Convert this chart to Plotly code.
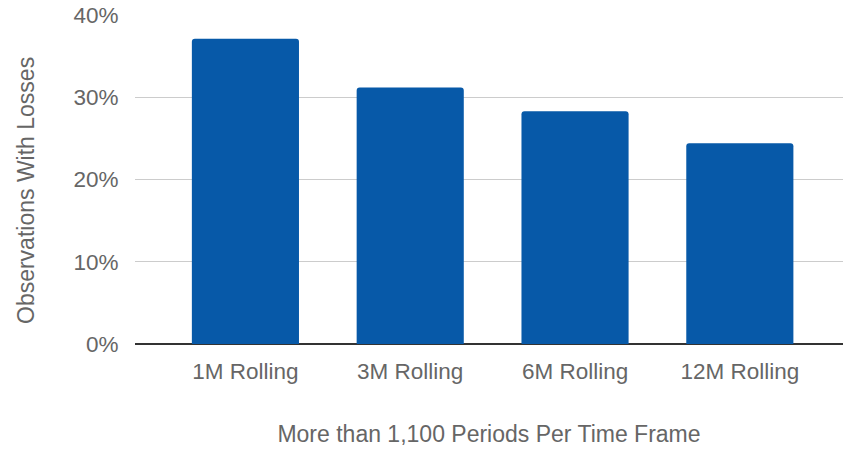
import plotly.graph_objects as go

# Share of rolling-window observations that ended with a loss
categories = ["1M Rolling", "3M Rolling", "6M Rolling", "12M Rolling"]
loss_share = [0.371, 0.312, 0.283, 0.244]
y_ticks = [0, 0.1, 0.2, 0.3, 0.4]
y_tick_labels = ["0%", "10%", "20%", "30%", "40%"]

text_color = "#666666"
font_family = "Liberation Sans, Arial, sans-serif"

fig = go.Figure(
    go.Bar(
        x=list(range(len(categories))),
        y=loss_share,
        width=0.65,
        marker=dict(color="#0759A8", line=dict(width=0)),
    )
)

fig.update_layout(
    width=844,
    height=449,
    margin=dict(l=135, r=1, t=15, b=105),
    paper_bgcolor="white",
    plot_bgcolor="white",
    showlegend=False,
    barcornerradius=3,
    font=dict(family=font_family, color=text_color, size=23),
)

fig.update_xaxes(
    range=[-0.67, 3.626],
    tickmode="array",
    tickvals=list(range(len(categories))),
    ticktext=categories,
    tickfont=dict(size=22.5, color=text_color),
    ticks="outside",
    ticklen=7,
    tickcolor="rgba(0,0,0,0)",
    showgrid=False,
    zeroline=False,
    showline=False,
    title=dict(
        text="More than 1,100 Periods Per Time Frame",
        font=dict(size=23, color=text_color),
        standoff=42,
    ),
)

fig.update_yaxes(
    range=[0, 0.4],
    tickmode="array",
    tickvals=y_ticks,
    ticktext=y_tick_labels,
    tickfont=dict(size=22.5, color=text_color),
    ticks="outside",
    ticklen=11,
    tickcolor="rgba(0,0,0,0)",
    showgrid=True,
    gridcolor="#cccccc",
    gridwidth=1,
    zeroline=True,
    zerolinecolor="#333333",
    zerolinewidth=1.5,
    showline=False,
)

fig.add_annotation(
    text="Observations With Losses",
    textangle=-90,
    xref="paper",
    yref="paper",
    x=-135 / 708 + 26 / 708,
    y=0.465,
    xanchor="center",
    yanchor="middle",
    showarrow=False,
    font=dict(size=23, color=text_color, family=font_family),
)

fig.write_html("out.html")
